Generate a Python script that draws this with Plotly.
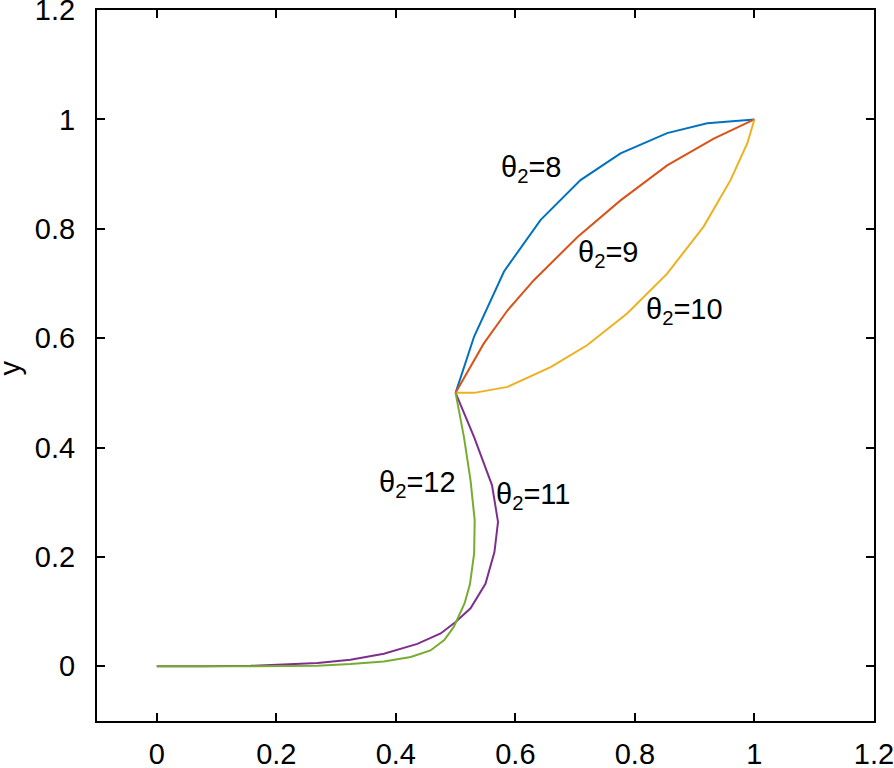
import plotly.graph_objects as go

# curve samples (x, y)
x_t8 = [0.5, 0.531, 0.581, 0.642, 0.709, 0.776, 0.854, 0.921, 1.0]
y_t8 = [0.5, 0.603, 0.722, 0.816, 0.889, 0.938, 0.975, 0.993, 1.0]

x_t9 = [0.5, 0.547, 0.587, 0.631, 0.704, 0.776, 0.854, 0.932, 1.0]
y_t9 = [0.5, 0.590, 0.651, 0.706, 0.785, 0.852, 0.916, 0.965, 1.0]

x_t10 = [0.5, 0.531, 0.587, 0.659, 0.72, 0.787, 0.854, 0.915, 0.96, 0.988, 1.0]
y_t10 = [0.5, 0.5, 0.511, 0.547, 0.587, 0.645, 0.718, 0.804, 0.889, 0.956, 1.0]

x_t11 = [0.5, 0.531, 0.561, 0.571, 0.565, 0.55, 0.525, 0.5, 0.475, 0.436,
         0.38, 0.324, 0.269, 0.213, 0.157, 0.079, 0.0]
y_t11 = [0.5, 0.419, 0.331, 0.264, 0.209, 0.151, 0.106, 0.081, 0.06, 0.041,
         0.023, 0.012, 0.006, 0.003, 0.001, 0.0003, 0.0]

x_t12 = [0.5, 0.514, 0.525, 0.532, 0.531, 0.524, 0.515, 0.505, 0.497, 0.481,
         0.458, 0.425, 0.38, 0.324, 0.269, 0.15, 0.0]
y_t12 = [0.5, 0.419, 0.34, 0.267, 0.206, 0.15, 0.115, 0.09, 0.072, 0.048,
         0.029, 0.017, 0.009, 0.004, 0.001, 0.0, 0.0]

tick_vals = [0, 0.2, 0.4, 0.6, 0.8, 1, 1.2]
tick_text = ["0", "0.2", "0.4", "0.6", "0.8", "1", "1.2"]

labels = ["θ<sub>2</sub>=8", "θ<sub>2</sub>=9", "θ<sub>2</sub>=10",
          "θ<sub>2</sub>=11", "θ<sub>2</sub>=12"]
label_x = [0.573, 0.701, 0.816, 0.565, 0.368]
label_y = [0.91, 0.754, 0.649, 0.312, 0.334]

colors = ["#0072BD", "#D95319", "#EDB120", "#7E2F8E", "#77AC30"]
xs = [x_t8, x_t9, x_t10, x_t11, x_t12]
ys = [y_t8, y_t9, y_t10, y_t11, y_t12]

fig = go.Figure()
for x, y, c in zip(xs, ys, colors):
    fig.add_trace(go.Scatter(x=x, y=y, mode="lines",
                             line=dict(color=c, width=2), showlegend=False))

for t, lx, ly in zip(labels, label_x, label_y):
    fig.add_annotation(x=lx, y=ly, text=t, showarrow=False,
                       xanchor="left", yanchor="middle",
                       font=dict(size=29, color="black"))

fig.add_annotation(xref="paper", yref="paper", x=-0.112, y=0.497, text="y",
                   textangle=-90, showarrow=False,
                   xanchor="center", yanchor="middle",
                   font=dict(size=29, color="black"))

axis_style = dict(showline=True, linecolor="black", linewidth=2,
                  mirror="ticks", ticks="inside", ticklen=8, tickwidth=1.5,
                  tickcolor="black", showgrid=False, zeroline=False,
                  automargin=False, tickmode="array",
                  tickvals=tick_vals, ticktext=tick_text,
                  ticklabeloverflow="allow",
                  tickfont=dict(size=29, color="black"))

fig.update_xaxes(range=[-0.1, 1.2001], ticklabelstandoff=6, **axis_style)
fig.update_yaxes(range=[-0.1, 1.2001], ticklabelstandoff=14, **axis_style)

fig.update_layout(width=894, height=768, plot_bgcolor="white",
                  paper_bgcolor="white",
                  font=dict(family="Arial, Liberation Sans", color="black"),
                  margin=dict(l=97, r=20, t=10, b=47))

fig.write_html("out.html", config={"displayModeBar": False},
               post_script="document.body.style.margin='0px';")
